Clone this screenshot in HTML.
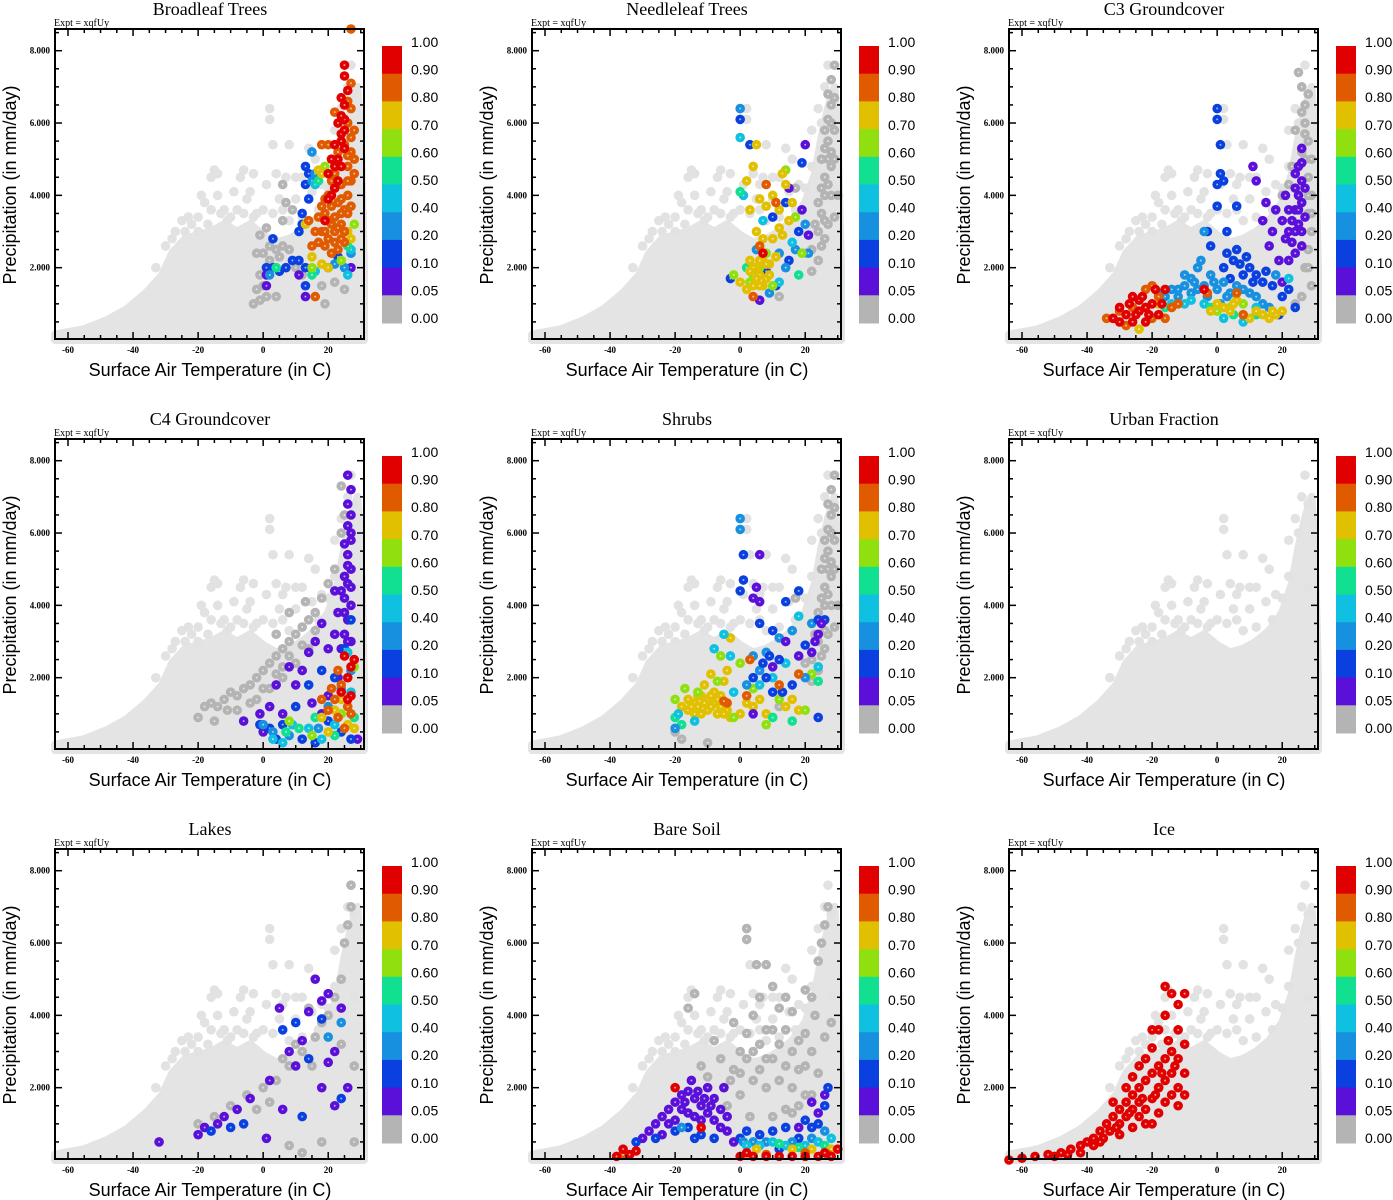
<!DOCTYPE html>
<html><head><meta charset="utf-8"><style>
html,body{margin:0;padding:0;background:#fff;}
svg{display:block;}
.tl{font-family:"Liberation Serif",serif;font-size:18px;}
.ex{font-family:"Liberation Serif",serif;font-size:10px;}
.tk{font-family:"Liberation Serif",serif;font-size:9px;font-weight:bold;}
.ax{font-family:"Liberation Sans",sans-serif;font-size:18px;}
.cb{font-family:"Liberation Sans",sans-serif;font-size:14px;}
</style></head><body>
<svg id="fig" width="1393" height="1200" viewBox="0 0 1393 1200"></svg>
<script>
const titles=["Broadleaf Trees","Needleleaf Trees","C3 Groundcover","C4 Groundcover","Shrubs","Urban Fraction","Lakes","Bare Soil","Ice"];
const binLabels=["1.00","0.90","0.80","0.70","0.60","0.50","0.40","0.20","0.10","0.05","0.00"];
const binColors=["#b4b4b4","#5a10d8","#0a40e0","#1890e0","#10c0e0","#10e090","#90e010","#e0c000","#e05a00","#e00000"];
const xTicks=[-60,-40,-20,0,20];
const yTicks=[2,4,6,8];
const bgDense=[[-64,0],[-64,0.15],[-55,0.3],[-48,0.55],[-42,0.85],[-36,1.3],[-31,1.8],[-28,2.4],[-24,2.8],[-20,2.9],[-16,3.0],[-12,3.2],[-8,3.0],[-4,3.2],[0,2.9],[4,2.7],[8,2.8],[12,3.0],[16,3.3],[20,3.8],[23,4.6],[25,5.6],[27,6.4],[29,7.0],[30,5.5],[31,2],[31,0]];
const bgPts=[[-30,2.6],[-27,3.0],[-25,3.3],[-22,3.2],[-20,3.4],[-18,3.8],[-16,4.5],[-15,4.7],[-14,4.6],[-12,3.6],[-10,3.4],[-8,3.6],[-7,4.5],[-6,4.7],[-5,3.9],[-4,4.1],[-2,3.5],[0,3.6],[1,4.3],[2,6.4],[2,6.1],[3,5.4],[4,4.6],[5,3.9],[6,4.3],[7,4.5],[8,5.4],[10,3.9],[12,4.5],[14,5.3],[16,5.0],[18,4.3],[20,4.2],[22,5.8],[24,6.4],[26,7.0],[27,7.6],[28,6.8],[-33,2.0],[-24,3.0],[-13,3.5],[-11,3.3],[-3,3.4],[3,3.5],[8,3.3],[12,3.4],[-20,3.0],[-16,3.6],[-9,4.1],[-17,3.2],[28,4.5],[25,6.0],[22,4.8],[-23,3.4],[-19,4.0],[-3,4.6],[10,4.5],[15,4.1],[-14,4.0],[-6,3.5],[6,3.6],[17,3.6],[-28,2.8]];
const p1=[[0,1.5,0],[1,1.2,0],[-1,1.8,0],[0,2.4,0],[2,2.6,0],[4,2.5,0],[6,2.6,0],[8,2.5,0],[-3,1.0,0],[-2,2.4,0],[1,3.1,0],[6,3.3,0],[7,3.8,0],[9,3.6,0],[6,4.3,0],[12,1.8,0],[18,1.5,0],[22,1.6,0],[25,1.4,0],[19,1.0,0],[4,1.2,0],[10,2.0,0],[-1,2.9,0],[-2,1.4,0],[2,2.2,0],[5,2.3,0],[-1,1.1,0],
[3,2.8,2],[1,2.0,2],[3,2.0,2],[5,1.9,2],[7,2.0,2],[9,2.2,2],[11,2.2,2],[13,2.0,2],[12,3.5,2],[13,4.8,2],[13,4.3,2],[14,3.9,2],[12,3.2,2],[13,1.5,2],[11,3.0,2],[14,4.6,2],[20,2.0,2],[23,2.3,2],
[1,1.8,1],[1,1.5,1],[11,1.8,1],[13,1.2,1],[27,2.0,1],
[15,5.2,3],[15,4.4,3],[2,1.8,3],[16,4.6,3],[25,2.0,3],[27,2.4,3],[22,2.1,3],
[16,4.3,4],[26,1.8,4],[27,2.5,4],[16,1.9,4],
[4,2.0,5],[15,1.8,5],[17,4.4,5],[26,2.6,5],
[19,4.8,6],[28,3.2,6],[15,2.0,6],[24,2.2,6],
[17,4.7,7],[18,4.6,7],[13,3.2,7],[15,2.3,7],[18,2.1,7],[20,2.0,7],[26,3.0,7],[27,2.8,7],
[22,6.3,8],[27,6.4,8],[26,6.0,8],[27,5.6,8],[27,5.2,8],[26,4.8,8],[27,4.4,8],[26,4.0,8],[25,3.6,8],[24,3.2,8],[22,3.0,8],[20,2.8,8],[19,2.6,8],[21,2.4,8],[23,2.5,8],[18,3.0,8],[17,3.4,8],[16,3.0,8],[15,2.6,8],[14,3.3,8],[19,3.5,8],[20,4.0,8],[21,3.7,8],[23,3.8,8],[24,4.3,8],[22,4.6,8],[25,5.4,8],[23,5.2,8],[18,5.4,8],[20,5.4,8],[19,3.9,8],[22,3.4,8],[26,3.5,8],[25,2.7,8],[27,3.7,8],[16,1.2,8],[28,4.6,8],[26,6.6,8],[27,7.1,8],[17,2.7,8],[21,3.2,8],[24,2.8,8],[26,4.4,8],[28,5.8,8],[24,3.9,8],[22,4.2,8],[23,3.1,8],[25,3.0,8],[20,3.3,8],[18,3.7,8],[21,4.4,8],[26,5.1,8],[28,5.0,8],[22,2.7,8],[24,3.5,8],[19,3.0,8],
[25,7.6,9],[25,7.3,9],[26,6.9,9],[24,6.7,9],[25,6.5,9],[23,6.0,9],[24,5.7,9],[25,5.3,9],[23,5.0,9],[24,4.8,9],[21,5.0,9],[20,4.6,9],[22,4.8,9],[21,4.0,9],[20,3.9,9],[23,4.4,9],[19,3.3,9],[25,6.1,9],[24,5.5,9],[27,8.6,8],[22,5.4,9],[24,6.2,9],[25,5.8,9],[22,4.2,9]];
const gCol=[[22,2.5,0],[24,3,0],[25,3.5,0],[26,4,0],[26,4.5,0],[27,5,0],[27,5.5,0],[28,6,0],[28,6.5,0],[27,6.8,0],[28,7.2,0],[29,7.6,0],[25,4.2,0],[24,3.8,0],[23,3.2,0],[26,5.8,0],[29,6.7,0],[27,3.2,0],[28,4,0],[29,5,0],[22,1.9,0],[20,2.4,0],[24,2.2,0],[17,4.2,0],[12,1.2,0],[30,4,0],[26,2.8,0],[28,5.2,0],[25,5.0,0],[29,3.4,0],[27,4.3,0],[26,3.3,0],[28,4.8,0],[27,6.1,0],[29,5.8,0],[26,5.3,0],[25,2.6,0]];
const p2=[[0,6.1,2],[3,5.4,2],[10,3.4,2],[11,1.5,2],[18,3.0,2],[15,2.2,2],[8,1.9,2],[14,3.8,2],[19,4.9,2],[-3,1.7,2],
[0,6.4,3],[20,3.2,3],[17,2.5,3],[12,2.4,3],[5,2.5,3],[9,1.3,3],[14,2.0,3],[21,2.4,3],
[20,5.4,1],[19,3.6,1],[15,4.2,1],[21,2.9,1],[6,1.1,1],
[0,5.6,4],[7,3.3,4],[1,4.0,4],[16,2.7,4],[12,1.6,4],
[0,4.1,5],[2,2.0,5],[18,1.8,5],
[14,4.7,6],[4,1.8,6],[8,2.4,6],[17,3.4,6],[-2,1.8,6],[10,1.5,6],[19,2.4,6],[3,1.6,6],[6,2.0,6],
[5,5.4,7],[2,4.4,7],[3,3.6,7],[6,3.9,7],[8,3.7,7],[10,4.0,7],[12,3.6,7],[14,4.3,7],[15,3.3,7],[10,2.8,7],[7,2.8,7],[5,2.0,7],[6,1.8,7],[7,2.2,7],[4,1.5,7],[8,1.7,7],[3,2.2,7],[9,2.1,7],[2,1.4,7],[11,2.3,7],[13,2.9,7],[16,3.8,7],[5,3.0,7],[0,1.6,7],[12,3.1,7],[13,4.6,7],[4,4.8,7],[6,2.2,7],[7,1.5,7],[5,1.7,7],[8,2.1,7],[4,2.0,7],[6,1.5,7],[9,1.8,7],[3,1.9,7],
[8,4.3,8],[6,2.6,8],[4,1.2,8],[11,3.8,8],[7,2.4,9]];
const p3=[[25,7.4,0],[26,7.0,0],[27,6.5,0],[27,6.0,0],[28,5.5,0],[27,5.0,0],[28,4.5,0],[29,4.0,0],[28,3.5,0],[29,3.0,0],[28,2.5,0],[27,2.0,0],[29,1.5,0],[26,1.2,0],[24,1.0,0],[22,4.3,0],[20,4.0,0],[22,3.6,0],[24,5.8,0],[26,5.2,0],[28,6.8,0],[29,5.0,0],[25,3.2,0],[23,4.8,0],[27,5.7,0],[28,4.0,0],[29,3.5,0],[28,2.0,0],[26,6.3,0],
[26,5.3,1],[25,4.8,1],[26,4.4,1],[25,4.0,1],[24,3.6,1],[26,3.8,1],[25,3.2,1],[27,3.4,1],[24,3.0,1],[23,2.7,1],[21,2.8,1],[20,3.3,1],[22,3.6,1],[18,3.6,1],[15,3.8,1],[12,4.4,1],[11,4.8,1],[16,2.6,1],[19,2.2,1],[22,2.2,1],[24,2.4,1],[26,2.6,1],[20,1.6,1],[14,3.3,1],[17,3.0,1],[26,4.9,1],[24,4.2,1],[27,4.2,1],[21,4.0,1],[23,3.3,1],[25,3.6,1],[24,4.6,1],[26,3.0,1],[22,3.0,1],
[0,6.4,2],[0,6.1,2],[1,5.4,2],[1,4.6,2],[2,4.4,2],[0,4.3,2],[0,3.7,2],[6,3.7,2],[3,3.0,2],[-3,3.0,2],[-2,2.6,2],[3,2.4,2],[5,2.2,2],[7,2.1,2],[9,2.3,2],[10,2.0,2],[12,1.8,2],[14,1.6,2],[17,1.5,2],[20,1.2,2],[22,1.4,2],[24,0.9,2],[8,1.8,2],[4,1.7,2],[19,0.7,2],[6,2.5,2],[11,1.6,2],[15,1.9,2],[2,2.0,2],
[-5,2.2,3],[-6,2.0,3],[-8,1.7,3],[-10,1.5,3],[-12,1.4,3],[-14,1.4,3],[-16,1.2,3],[-12,1.2,3],[-8,1.3,3],[-4,1.5,3],[-2,1.8,3],[0,1.4,3],[2,1.6,3],[4,1.3,3],[6,1.5,3],[-6,1.4,3],[-3,1.2,3],[1,1.0,3],[14,1.0,3],[16,0.9,3],[10,1.3,3],[18,1.8,3],[-4,3.0,3],[-18,1.3,3],[-10,1.8,3],[-7,1.6,3],[-1,1.6,3],[3,1.2,3],[8,1.4,3],[12,1.2,3],
[-4,1.0,4],[-8,1.1,4],[-14,1.0,4],[2,0.6,4],[8,0.5,4],[22,1.7,4],[-10,1.0,4],[12,0.9,4],
[-16,0.9,5],[5,0.7,5],[12,0.7,5],[-2,0.9,5],
[0,0.8,6],[4,0.9,6],[8,1.0,6],
[0,1.0,7],[4,0.8,7],[6,1.1,7],[-2,0.8,7],[10,0.6,7],[12,0.8,7],[14,0.7,7],[16,0.6,7],[18,0.7,7],[20,0.8,7],[-18,1.0,7],[5,1.0,7],[-24,0.3,7],[2,0.9,7],[17,0.8,7],
[-34,0.6,8],[-30,0.8,8],[-26,0.9,8],[-22,1.4,8],[-20,1.5,8],[-18,1.2,8],[-14,0.9,8],[-12,1.0,8],[-20,0.6,8],[-16,0.6,8],[-28,0.4,8],[-3,1.3,8],[6,1.3,8],[8,0.7,8],
[-32,0.6,9],[-30,0.5,9],[-28,0.7,9],[-26,0.5,9],[-24,0.8,9],[-22,0.9,9],[-20,1.0,9],[-24,1.1,9],[-26,1.2,9],[-22,0.5,9],[-18,0.7,9],[-19,1.4,9],[-17,1.0,9],[-30,0.9,9],[-27,1.0,9],[-4,1.4,9],[-16,1.4,9],[-25,0.7,9],[-21,0.7,9],[-23,1.2,9]];
const p4=[[-20,0.9,0],[-18,1.2,0],[-16,1.3,0],[-14,1.2,0],[-12,1.4,0],[-10,1.6,0],[-8,1.5,0],[-6,1.7,0],[-4,1.8,0],[-2,2.0,0],[0,2.2,0],[2,2.4,0],[4,2.6,0],[6,2.8,0],[8,3.0,0],[10,3.2,0],[12,3.4,0],[14,3.6,0],[16,3.8,0],[18,4.2,0],[20,4.6,0],[22,5.0,0],[24,6.0,0],[25,6.5,0],[-2,1.4,0],[2,1.7,0],[6,2.0,0],[10,2.4,0],[14,2.8,0],[-8,1.1,0],[4,3.2,0],[8,3.8,0],[6,2.3,0],[13,4.1,0],[24,7.3,0],[-15,0.8,0],[-11,1.1,0],[-4,1.3,0],[0,1.7,0],[4,2.1,0],[8,2.6,0],[12,2.9,0],[16,3.3,0],
[26,7.6,1],[27,7.2,1],[26,6.8,1],[27,6.5,1],[26,6.2,1],[27,5.8,1],[26,5.4,1],[27,5.0,1],[26,4.6,1],[25,4.2,1],[27,4.0,1],[26,3.6,1],[25,3.2,1],[24,2.8,1],[27,3.0,1],[22,3.2,1],[23,3.8,1],[24,4.4,1],[18,3.5,1],[16,3.0,1],[14,2.7,1],[12,2.2,1],[10,1.8,1],[8,2.3,1],[4,1.8,1],[2,1.2,1],[6,1.0,1],[-1,1.0,1],[-6,0.8,1],[20,1.5,1],[18,1.0,1],[15,1.3,1],[29,0.3,1],[0,0.5,1],[22,4.4,1],[25,5.7,1],[27,6.0,1],[26,3.0,1],[20,2.8,1],[23,2.0,1],[25,4.8,1],[26,5.1,1],[27,4.5,1],[25,3.8,1],
[-1,0.7,2],[2,0.6,2],[6,0.7,2],[10,1.2,2],[14,1.8,2],[18,2.2,2],[22,2.0,2],[25,2.8,2],[27,3.6,2],[20,0.8,2],[12,0.3,2],[16,0.2,2],[27,0.3,2],[24,0.5,2],[4,0.3,2],
[3,0.5,3],[8,0.4,3],[17,0.6,3],[24,1.7,3],[27,2.2,3],[20,1.2,3],[0,0.7,3],
[3,0.3,4],[9,0.7,4],[14,0.6,4],[18,0.3,4],[26,2.7,4],[27,1.6,4],[22,0.7,4],[6,0.2,4],
[7,0.5,5],[11,0.6,5],[16,0.9,5],[22,0.4,5],[28,0.9,5],
[8,0.8,6],[24,1.0,6],[28,2.3,6],[15,0.4,6],
[18,0.9,7],[20,0.5,7],[22,1.1,7],[26,0.7,7],[24,1.4,7],[28,0.6,7],
[18,1.4,8],[20,1.1,8],[22,1.4,8],[24,1.8,8],[26,1.2,8],[25,0.6,8],[23,0.9,8],[21,1.7,8],[27,1.0,8],[23,2.2,8],
[24,1.6,9],[26,2.0,9],[27,2.3,9],[25,2.6,9],[27,1.5,9],[26,1.4,9],[28,2.5,9]];
const p5=[[-20,0.5,0],[-18,0.3,0],[-10,0.2,0],
[-18,1.2,7],[-16,1.4,7],[-14,1.3,7],[-12,1.5,7],[-10,1.4,7],[-8,1.3,7],[-6,1.2,7],[-4,1.1,7],[-12,1.0,7],[-10,1.1,7],[-14,1.0,7],[-16,1.1,7],[-8,1.6,7],[-6,1.5,7],[-11,1.8,7],[-9,2.1,7],[-5,1.9,7],[-4,2.2,7],[-3,3.1,7],[2,1.3,7],[4,1.2,7],[6,1.4,7],[8,1.0,7],[14,1.2,7],[16,1.4,7],[18,1.1,7],[-7,1.0,7],[-3,0.9,7],[0,1.0,7],[-13,1.2,7],[-9,1.2,7],[-15,1.2,7],[-11,1.3,7],[-7,1.4,7],[-5,1.0,7],[-13,1.5,7],[-9,1.5,7],
[-20,1.4,6],[-17,1.7,6],[-13,1.6,6],[-7,1.9,6],[-6,2.6,6],[0,2.4,6],[4,1.7,6],[8,0.7,6],[12,1.4,6],[20,1.1,6],[22,2.1,6],[-2,0.9,6],
[-20,0.9,5],[-18,0.7,5],[10,0.9,5],[24,1.9,5],[16,0.8,5],
[-19,1.0,4],[-14,0.8,4],[-8,2.8,4],[-5,3.2,4],[-3,2.6,4],[6,1.8,4],[10,2.0,4],[14,2.4,4],[18,3.7,4],[24,2.3,4],[-2,1.6,4],
[0,6.4,3],[0,6.1,3],[-20,0.6,3],[4,2.6,3],[8,2.7,3],[12,3.1,3],[16,3.3,3],[20,2.0,3],[22,3.5,3],[2,1.8,3],[6,2.2,3],
[1,5.4,2],[1,4.7,2],[0,4.4,2],[6,3.5,2],[10,3.3,2],[12,2.5,2],[14,4.1,2],[18,4.4,2],[4,2.0,2],[8,2.0,2],[10,1.6,2],[20,2.9,2],[24,3.6,2],[26,3.6,2],[24,0.9,2],[16,1.8,2],[13,1.6,2],[7,2.4,2],[9,2.6,2],
[6,5.4,1],[5,4.5,1],[4,4.2,1],[6,4.1,1],[4,1.0,1],[22,2.7,1],[23,3.0,1],[24,3.2,1],[25,3.5,1],[18,2.6,1],[14,3.0,1],[10,2.3,1],
[-4,1.3,8],[-5,1.35,8],[2,1.5,8],[3,2.5,8],[12,1.8,8],[18,2.1,8]];
const p6=[];
const p7=[[-20,1.0,0],[-15,1.2,0],[-10,1.5,0],[-5,1.8,0],[0,2.0,0],[4,2.2,0],[8,2.6,0],[12,3.0,0],[16,3.4,0],[20,4.0,0],[24,5.0,0],[25,6.0,0],[26,6.5,0],[27,7.0,0],[22,4.5,0],[18,3.8,0],[14,4.2,0],[10,3.2,0],[6,2.8,0],[2,1.6,0],[-2,1.4,0],[15,2.6,0],[24,3.2,0],[28,2.6,0],[8,0.4,0],[12,0.2,0],[28,0.5,0],[27,7.6,0],[18,0.5,0],
[-32,0.5,1],[-20,0.7,1],[-18,0.9,1],[-14,1.0,1],[-12,1.2,1],[-8,1.4,1],[-4,1.7,1],[2,2.2,1],[6,1.4,1],[10,2.6,1],[12,3.3,1],[14,4.1,1],[16,5.0,1],[18,4.4,1],[20,4.6,1],[22,3.0,1],[24,4.2,1],[22,1.5,1],[18,2.0,1],[5,4.2,1],[8,3.0,1],[26,2.0,1],[20,2.7,1],[1,0.6,1],
[-16,0.8,2],[-10,0.9,2],[6,3.6,2],[10,3.8,2],[14,2.8,2],[18,3.9,2],[24,1.7,2],[-6,1.0,2],[12,1.2,2],[20,3.4,3],[24,3.8,3]];
const p8=[[-5,2.0,0],[-2,2.5,0],[0,3.0,0],[2,3.5,0],[4,4.0,0],[6,3.2,0],[8,2.8,0],[10,3.6,0],[12,4.2,0],[14,3.6,0],[16,3.0,0],[18,2.5,0],[20,3.5,0],[22,4.5,0],[24,5.5,0],[26,6.5,0],[27,7.0,0],[25,6.0,0],[23,4.0,0],[20,2.6,0],[16,2.0,0],[12,2.2,0],[8,2.0,0],[4,2.2,0],[0,1.8,0],[-4,1.5,0],[6,4.5,0],[10,4.8,0],[14,4.5,0],[2,6.4,0],[2,6.1,0],[-10,2.3,0],[-12,2.6,0],[-16,4.2,0],[-14,4.6,0],[18,1.5,0],[22,1.8,0],[-6,2.8,0],[0,2.4,0],[3,1.2,0],[10,1.2,0],[14,1.4,0],[-8,3.3,0],[-2,3.8,0],[5,5.4,0],[8,5.4,0],[16,4.1,0],[20,4.7,0],[28,3.8,0],[24,2.4,0],[26,3.4,0],[12,3.2,0],[6,2.5,0],[10,2.8,0],[14,2.6,0],[18,3.3,0],[22,3.0,0],[2,2.8,0],[-3,2.2,0],[4,3.0,0],[8,3.6,0],[16,1.3,0],[20,1.8,0],
[-30,0.6,1],[-28,0.8,1],[-26,1.0,1],[-24,1.2,1],[-22,1.4,1],[-20,1.6,1],[-18,1.8,1],[-16,1.9,1],[-14,1.7,1],[-12,1.5,1],[-10,1.3,1],[-8,1.1,1],[-6,0.9,1],[-24,0.7,1],[-20,1.1,1],[-16,1.3,1],[-12,1.1,1],[-18,1.4,1],[-14,1.2,1],[-22,1.0,1],[-8,1.7,1],[-6,1.4,1],[-10,2.0,1],[-4,1.2,1],[-2,0.5,1],[-4,0.8,1],[-15,2.2,1],[22,1.6,1],[24,1.3,1],[26,1.8,1],[18,0.9,1],[-5,2.0,1],[-17,1.6,1],[-13,1.9,1],[-9,1.5,1],[-11,1.7,1],
[-26,0.6,2],[-20,0.8,2],[-16,0.9,2],[-12,0.7,2],[-8,0.6,2],[2,0.8,2],[6,0.7,2],[10,0.8,2],[14,0.9,2],[18,0.6,2],[22,0.9,2],[24,1.0,2],[26,1.5,2],[27,2.0,2],[20,1.1,2],[-32,0.5,2],[12,0.3,2],[0,0.6,2],[-14,0.6,2],
[4,0.5,3],[8,0.5,3],[16,0.5,3],[22,0.6,3],[26,0.8,3],[-18,0.9,3],[1,0.5,3],
[2,0.4,4],[6,0.4,4],[10,0.5,4],[14,0.4,4],[20,0.4,4],[24,0.5,4],[28,0.6,4],
[12,0.45,5],[18,0.35,5],[26,0.4,5],
[5,0.3,7],[16,0.3,7],[22,0.3,7],[28,0.3,7],
[8,0.15,8],[20,0.2,8],[27,0.15,8],[-36,0.15,8],
[-38,0.1,9],[-36,0.3,9],[-34,0.15,9],[-32,0.25,9],[-20,2.0,9],[0,0.1,9],[4,0.1,9],[8,0.1,9],[12,0.1,9],[16,0.1,9],[20,0.1,9],[24,0.1,9],[28,0.1,9],[30,0.3,9],[2,0.2,9],[26,0.2,9],[-12,0.9,9]];
const p9=[[-64,0,9],[-60,0.05,9],[-56,0.1,9],[-52,0.15,9],[-48,0.2,9],[-45,0.3,9],[-42,0.4,9],[-40,0.5,9],[-38,0.6,9],[-36,0.8,9],[-34,1.0,9],[-32,1.2,9],[-30,1.4,9],[-28,1.6,9],[-26,1.8,9],[-24,2.0,9],[-22,2.2,9],[-20,2.4,9],[-18,2.6,9],[-16,2.8,9],[-14,3.0,9],[-12,2.8,9],[-10,3.2,9],[-30,1.0,9],[-28,1.2,9],[-26,1.4,9],[-24,1.6,9],[-22,1.4,9],[-20,1.7,9],[-18,2.0,9],[-16,2.2,9],[-14,2.4,9],[-12,2.0,9],[-35,0.6,9],[-33,0.8,9],[-38,0.4,9],[-42,0.2,9],[-30,0.7,9],[-26,0.9,9],[-22,1.0,9],[-18,1.3,9],[-16,1.6,9],[-14,1.8,9],[-20,3.1,9],[-18,3.6,9],[-16,4.0,9],[-14,4.6,9],[-16,4.8,9],[-12,4.3,9],[-10,4.6,9],[-20,3.6,9],[-24,2.6,9],[-26,2.3,9],[-22,2.8,9],[-18,2.0,9],[-12,3.6,9],[-10,2.4,9],[-12,1.5,9],[-28,2.0,9],[-32,1.6,9],[-20,1.0,9],[-24,1.2,9],[-10,1.8,9],[-15,3.3,9],[-50,0.1,9],[-46,0.15,9],[-36,0.5,9],[-31,0.9,9],[-27,1.3,9],[-23,1.7,9],[-19,1.8,9],[-17,2.4,9],[-13,2.6,9]];
const panels=[p1,gCol.concat(p2),p3,p4,gCol.concat(p5),p6,p7,p8,p9];

const NS="http://www.w3.org/2000/svg";
const svg=document.getElementById('fig');
function mk(tag,attrs,parent,txt){const e=document.createElementNS(NS,tag);for(const k in attrs)e.setAttribute(k,attrs[k]);if(txt!==undefined)e.textContent=txt;(parent||svg).appendChild(e);return e;}
const X0=55,X1=364,Y0=29,Y1=339,TMIN=-64,TMAX=31,PMIN=0,PMAX=8.6;
function sx(t){return X0+(t-TMIN)/(TMAX-TMIN)*(X1-X0);}
function sy(p){return 340-(p-PMIN)/(PMAX-PMIN)*(340-Y0);}

panels.forEach((pts,i)=>{
  const ox=(i%3)*477, oy=Math.floor(i/3)*410;
  const g=mk('g',{transform:`translate(${ox},${oy})`});
  
  
  const t=mk('text',{x:210,y:15,'text-anchor':'middle',class:'tl'},g,titles[i]);
  
  
  const ex=mk('text',{x:54,y:26,class:'ex'},g,'Expt = xqfUy');
  
  
  const poly=mk('polygon',{points:bgDense.map(d=>sx(d[0])+','+sy(d[1])).join(' '),fill:'#e4e4e4',stroke:'#e4e4e4','stroke-width':8,'stroke-linejoin':'round'},g);
  
  
  bgPts.forEach(d=>{
    const c=mk('circle',{cx:sx(d[0]),cy:sy(d[1]),r:4.8,fill:'#e2e2e2'},g);
    
    
  });
  pts.forEach(d=>{
    const c=mk('circle',{cx:sx(d[0]),cy:sy(d[1]),r:4.8,fill:binColors[d[2]]},g);
    
    
    mk('circle',{cx:sx(d[0]),cy:sy(d[1]),r:1,fill:'#fff',opacity:0.6},g);
  });
  const fr=mk('rect',{x:X0,y:Y0,width:X1-X0,height:Y1-Y0,fill:'none',stroke:'#000','stroke-width':2},g);
  
  
  for(let v=-60;v<=30;v+=5){const x=sx(v),L=(v%20===0)?7:4;
    mk('line',{x1:x,y1:Y1,x2:x,y2:Y1-L,stroke:'#000','stroke-width':1.5},g);
    mk('line',{x1:x,y1:Y0,x2:x,y2:Y0+L,stroke:'#000','stroke-width':1.5},g);}
  for(let v=0.5;v<=8.5;v+=0.5){const y=sy(v),L=(v%2===0)?7:4;
    mk('line',{x1:X0,y1:y,x2:X0+L,y2:y,stroke:'#000','stroke-width':1.5},g);
    mk('line',{x1:X1,y1:y,x2:X1-L,y2:y,stroke:'#000','stroke-width':1.5},g);}
  xTicks.forEach(v=>{const e=mk('text',{x:sx(v),y:353,'text-anchor':'middle',class:'tk'},g,String(v));
    
    });
  yTicks.forEach(v=>{const e=mk('text',{x:50,y:sy(v)+3,'text-anchor':'end',class:'tk'},g,v.toFixed(3));
    
    });
  const yl=mk('text',{x:0,y:0,transform:'translate(16,185) rotate(-90)','text-anchor':'middle',class:'ax'},g,'Precipitation (in mm/day)');
  
  
  const xl=mk('text',{x:210,y:376,'text-anchor':'middle',class:'ax'},g,'Surface Air Temperature (in C)');
  
  
  const bh=27.7;
  for(let k=0;k<10;k++){
    const r=mk('rect',{x:382,y:46+k*bh,width:20,height:bh+0.5,fill:binColors[9-k]},g);
    
    
  }
  binLabels.forEach((s,k)=>{
    const e=mk('text',{x:411,y:47+k*27.6,class:'cb'},g,s);
    
    
  });
});
</script>
</body></html>
